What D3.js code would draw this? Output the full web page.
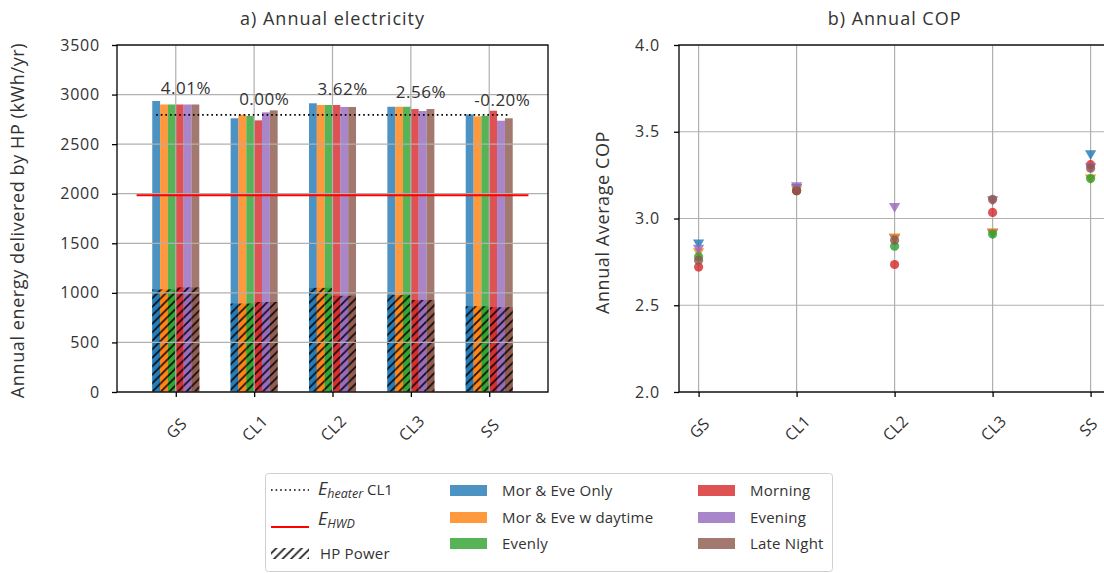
<!DOCTYPE html>
<html>
<head>
<meta charset="utf-8">
<script src="https://cdn.jsdelivr.net/npm/d3@7"></script>
<style>
  html, body { margin: 0; padding: 0; background: #fff; }
  svg { display: block; font-family: "Open Sans", Lato, sans-serif; }
  text { fill: #333; }
</style>
</head>
<body>
<svg id="chart" width="1104" height="573"></svg>
<script>
// Heating scenarios and load-shifting strategies
const categories = ["GS", "CL1", "CL2", "CL3", "SS"];
const seriesNames = ["Mor & Eve Only", "Mor & Eve w daytime", "Evenly", "Morning", "Evening", "Late Night"];
const seriesColors = ["#1f77b4", "#ff7f0e", "#2ca02c", "#d62728", "#9467bd", "#8c564b"];
const seriesMarkers = ["v", "v", "o", "o", "v", "o"];

// Annual energy delivered by HP (kWh/yr), one array per strategy, ordered by category
const energyMorEveOnly = [2935, 2761, 2912, 2877, 2800];
const energyMorEveDay  = [2900, 2797, 2895, 2877, 2780];
const energyEvenly     = [2900, 2784, 2895, 2877, 2786];
const energyMorning    = [2900, 2740, 2895, 2854, 2837];
const energyEvening    = [2900, 2821, 2875, 2834, 2736];
const energyLateNight  = [2900, 2841, 2875, 2854, 2761];

// HP electrical power consumption (kWh/yr)
const powerMorEveOnly = [1035, 892, 1050, 978, 865];
const powerMorEveDay  = [1035, 892, 1050, 978, 865];
const powerEvenly     = [1035, 892, 1050, 978, 865];
const powerMorning    = [1055, 908, 970, 928, 855];
const powerEvening    = [1055, 908, 970, 928, 855];
const powerLateNight  = [1055, 908, 970, 928, 855];

// Annual average COP
const copMorEveOnly = [2.86, 3.18, 2.89, 2.92, 3.375];
const copMorEveDay  = [2.81, 3.17, 2.895, 2.925, 3.235];
const copEvenly     = [2.78, 3.16, 2.84, 2.91, 3.23];
const copMorning    = [2.72, 3.16, 2.735, 3.035, 3.31];
const copEvening    = [2.83, 3.19, 3.07, 3.11, 3.30];
const copLateNight  = [2.76, 3.16, 2.875, 3.11, 3.29];

// Reference levels and relative change labels
const heaterCL1 = 2795;
const hwdEnergy = 1985;
const pctLabels = ["4.01%", "0.00%", "3.62%", "2.56%", "-0.20%"];

const energyTicks = [0, 500, 1000, 1500, 2000, 2500, 3000, 3500];
const copTicks = [2.0, 2.5, 3.0, 3.5, 4.0];

const energy = [energyMorEveOnly, energyMorEveDay, energyEvenly, energyMorning, energyEvening, energyLateNight];
const power = [powerMorEveOnly, powerMorEveDay, powerEvenly, powerMorning, powerEvening, powerLateNight];
const cop = [copMorEveOnly, copMorEveDay, copEvenly, copMorning, copEvening, copLateNight];

const svg = d3.select("#chart");
const W = 1104, H = 573;
svg.append("rect").attr("width", W).attr("height", H).attr("fill", "#fff");

const defs = svg.append("defs");
const pat = defs.append("pattern")
  .attr("id", "hatch").attr("patternUnits", "userSpaceOnUse")
  .attr("width", 8.5).attr("height", 8.5);
pat.append("path")
  .attr("d", "M-2,2 L2,-2 M0,8.5 L8.5,0 M6.5,10.5 L10.5,6.5")
  .attr("stroke", "#000").attr("stroke-width", 1.7).attr("stroke-opacity", 0.9);

const gridColor = "#b0b0b0";
const fontSize = 16;
const fontFam = "'Open Sans', Lato, sans-serif";

// ---------- a) Annual electricity ----------
const A = { left: 117, right: 548, top: 45, bottom: 392 };
const xA = d3.scaleLinear().domain([-0.75, 4.75]).range([A.left, A.right]);
const yA = d3.scaleLinear().domain([0, 3500]).range([A.bottom, A.top]);
const barW = 0.1;
const gA = svg.append("g");

// energy bars
energy.forEach((vals, s) => {
  gA.append("g").selectAll("rect").data(vals).join("rect")
    .attr("x", (d, i) => xA(i + (s - 2.5) * barW - barW / 2))
    .attr("width", xA(barW) - xA(0))
    .attr("y", d => yA(d))
    .attr("height", d => yA(0) - yA(d))
    .attr("fill", seriesColors[s]).attr("fill-opacity", 0.8);
});
// HP power bars (hatched)
power.forEach((vals, s) => {
  const g = gA.append("g");
  g.selectAll("rect.f").data(vals).join("rect").attr("class", "f")
    .attr("x", (d, i) => xA(i + (s - 2.5) * barW - barW / 2))
    .attr("width", xA(barW) - xA(0))
    .attr("y", d => yA(d))
    .attr("height", d => yA(0) - yA(d))
    .attr("fill", seriesColors[s]).attr("fill-opacity", 0.8);
  g.selectAll("rect.h").data(vals).join("rect").attr("class", "h")
    .attr("x", (d, i) => xA(i + (s - 2.5) * barW - barW / 2))
    .attr("width", xA(barW) - xA(0))
    .attr("y", d => yA(d))
    .attr("height", d => yA(0) - yA(d))
    .attr("fill", "url(#hatch)");
});

// grid
gA.append("g").selectAll("line").data(energyTicks).join("line")
  .attr("x1", A.left).attr("x2", A.right)
  .attr("y1", d => yA(d)).attr("y2", d => yA(d))
  .attr("stroke", gridColor).attr("stroke-width", 1.2);
gA.append("g").selectAll("line").data(categories).join("line")
  .attr("x1", (d, i) => xA(i)).attr("x2", (d, i) => xA(i))
  .attr("y1", A.top).attr("y2", A.bottom)
  .attr("stroke", gridColor).attr("stroke-width", 1.2);

// reference lines
gA.append("line")
  .attr("x1", xA(-0.25)).attr("x2", xA(4.25))
  .attr("y1", yA(heaterCL1)).attr("y2", yA(heaterCL1))
  .attr("stroke", "#000").attr("stroke-width", 1.6).attr("stroke-dasharray", "1.6,3");
gA.append("line")
  .attr("x1", xA(-0.5)).attr("x2", xA(4.5))
  .attr("y1", yA(hwdEnergy)).attr("y2", yA(hwdEnergy))
  .attr("stroke", "#ff0000").attr("stroke-width", 2);

// relative change labels above each group
gA.append("g").selectAll("text").data(categories).join("text")
  .attr("x", (d, i) => xA(i) - 15)
  .attr("y", (d, i) => yA(d3.mean(energy, e => e[i])) - 10)
  .attr("font-size", 17).attr("letter-spacing", 0.5)
  .text((d, i) => pctLabels[i]);

// axes
gA.append("rect").attr("x", A.left).attr("y", A.top)
  .attr("width", A.right - A.left).attr("height", A.bottom - A.top)
  .attr("fill", "none").attr("stroke", "#000").attr("stroke-width", 1.3);
const axYA = gA.append("g").attr("transform", `translate(${A.left},0)`)
  .call(d3.axisLeft(yA).tickValues(energyTicks).tickFormat(d3.format("d")).tickSize(5).tickPadding(12));
const axXA = gA.append("g").attr("transform", `translate(0,${A.bottom})`)
  .call(d3.axisBottom(xA).tickValues(d3.range(categories.length)).tickFormat(i => categories[i]).tickSize(5));
[axYA, axXA].forEach(ax => {
  ax.select(".domain").remove();
  ax.selectAll(".tick line").attr("stroke", "#000").attr("stroke-width", 1.3);
  ax.selectAll("text").attr("font-size", fontSize).attr("font-family", fontFam)
    .attr("fill", "#333").attr("letter-spacing", 0.8);
});
axXA.selectAll(".tick text")
  .attr("y", 0).attr("dy", 0).attr("letter-spacing", 0.3)
  .attr("text-anchor", "middle").attr("dominant-baseline", "central")
  .attr("transform", "translate(0,36) rotate(-45)");

svg.append("text").attr("x", (A.left + A.right) / 2).attr("y", 25)
  .attr("text-anchor", "middle").attr("font-size", 18).attr("letter-spacing", 1)
  .text("a) Annual electricity");
svg.append("text").attr("transform", `translate(24,${(A.top + A.bottom) / 2 + 2}) rotate(-90)`)
  .attr("text-anchor", "middle").attr("font-size", 18).attr("letter-spacing", 0.6)
  .text("Annual energy delivered by HP (kWh/yr)");

// ---------- b) Annual COP ----------
const B = { left: 679, top: 45, bottom: 392 };
const xB = d3.scaleLinear().domain([-0.2, 4.2]).range([B.left, B.left + 4.4 * 98]);
const yB = d3.scaleLinear().domain([2.0, 4.0]).range([B.bottom, B.top]);
B.right = xB(4.2);
const gB = svg.append("g");

gB.append("g").selectAll("line").data(copTicks).join("line")
  .attr("x1", B.left).attr("x2", B.right)
  .attr("y1", d => yB(d)).attr("y2", d => yB(d))
  .attr("stroke", gridColor).attr("stroke-width", 1.2);
gB.append("g").selectAll("line").data(categories).join("line")
  .attr("x1", (d, i) => xB(i)).attr("x2", (d, i) => xB(i))
  .attr("y1", B.top).attr("y2", B.bottom)
  .attr("stroke", gridColor).attr("stroke-width", 1.2);

const triDown = d3.symbol().type(d3.symbolTriangle).size(55);
cop.forEach((vals, s) => {
  const g = gB.append("g");
  vals.forEach((v, i) => {
    if (seriesMarkers[s] === "o") {
      g.append("circle").attr("cx", xB(i)).attr("cy", yB(v)).attr("r", 4.6)
        .attr("fill", seriesColors[s]).attr("fill-opacity", 0.8);
    } else {
      g.append("path").attr("d", triDown())
        .attr("transform", `translate(${xB(i)},${yB(v)}) rotate(180)`)
        .attr("fill", seriesColors[s]).attr("fill-opacity", 0.8);
    }
  });
});

gB.append("rect").attr("x", B.left).attr("y", B.top)
  .attr("width", B.right - B.left).attr("height", B.bottom - B.top)
  .attr("fill", "none").attr("stroke", "#000").attr("stroke-width", 1.3);
const axYB = gB.append("g").attr("transform", `translate(${B.left},0)`)
  .call(d3.axisLeft(yB).tickValues(copTicks).tickFormat(d3.format(".1f")).tickSize(5).tickPadding(14));
const axXB = gB.append("g").attr("transform", `translate(0,${B.bottom})`)
  .call(d3.axisBottom(xB).tickValues(d3.range(categories.length)).tickFormat(i => categories[i]).tickSize(5));
[axYB, axXB].forEach(ax => {
  ax.select(".domain").remove();
  ax.selectAll(".tick line").attr("stroke", "#000").attr("stroke-width", 1.3);
  ax.selectAll("text").attr("font-size", fontSize).attr("font-family", fontFam)
    .attr("fill", "#333").attr("letter-spacing", 0.8);
});
axXB.selectAll(".tick text")
  .attr("y", 0).attr("dy", 0).attr("letter-spacing", 0)
  .attr("text-anchor", "middle").attr("dominant-baseline", "central")
  .attr("transform", "translate(0,36) rotate(-45)");
// keep the last category label fully inside the canvas
axXB.selectAll(".tick text").filter((d, i) => i === categories.length - 1)
  .attr("transform", "translate(-3,35) rotate(-45)");

svg.append("text").attr("x", (B.left + B.right) / 2).attr("y", 25)
  .attr("text-anchor", "middle").attr("font-size", 18).attr("letter-spacing", 1)
  .text("b) Annual COP");
svg.append("text").attr("transform", `translate(609,${(B.top + B.bottom) / 2 + 4}) rotate(-90)`)
  .attr("text-anchor", "middle").attr("font-size", 18).attr("letter-spacing", 0.6)
  .text("Annual Average COP");

// ---------- legend ----------
const L = svg.append("g");
L.append("rect").attr("x", 265.5).attr("y", 473.5).attr("width", 567).attr("height", 98)
  .attr("rx", 3).attr("fill", "#fff").attr("stroke", "#d0d0d0").attr("stroke-width", 1);

const rowsLeft = [490, 522, 554];
L.append("line").attr("x1", 271).attr("x2", 309).attr("y1", rowsLeft[0]).attr("y2", rowsLeft[0])
  .attr("stroke", "#000").attr("stroke-width", 1.6).attr("stroke-dasharray", "1.6,3");
const t1 = L.append("text").attr("x", 318).attr("y", rowsLeft[0] + 5).attr("font-size", 18);
t1.append("tspan").attr("font-style", "italic").text("E");
t1.append("tspan").attr("font-style", "italic").attr("font-size", 12.5).attr("dy", 3).text("heater");
t1.append("tspan").attr("font-size", 15).attr("dy", -3).text(" CL1");

L.append("line").attr("x1", 271).attr("x2", 309).attr("y1", rowsLeft[1] + 5).attr("y2", rowsLeft[1] + 5)
  .attr("stroke", "#ff0000").attr("stroke-width", 2);
const t2 = L.append("text").attr("x", 318).attr("y", rowsLeft[1] + 3).attr("font-size", 18);
t2.append("tspan").attr("font-style", "italic").text("E");
t2.append("tspan").attr("font-style", "italic").attr("font-size", 12.5).attr("dy", 3).text("HWD");

L.append("rect").attr("x", 271).attr("y", rowsLeft[2] - 6).attr("width", 38).attr("height", 11)
  .attr("fill", "url(#hatch)");
L.append("text").attr("x", 320).attr("y", rowsLeft[2] + 5).attr("font-size", 15)
  .attr("letter-spacing", 0.2).text("HP Power");

const rowsRight = [491, 518, 544];
const colX = [450, 698];
seriesNames.forEach((name, s) => {
  const col = Math.floor(s / 3), row = s % 3;
  L.append("rect").attr("x", colX[col]).attr("y", rowsRight[row] - 6)
    .attr("width", 37).attr("height", 11)
    .attr("fill", seriesColors[s]).attr("fill-opacity", 0.8);
  L.append("text").attr("x", colX[col] + 52).attr("y", rowsRight[row] + 5)
    .attr("font-size", 15).attr("letter-spacing", 0.2).text(name);
});
</script>
</body>
</html>
